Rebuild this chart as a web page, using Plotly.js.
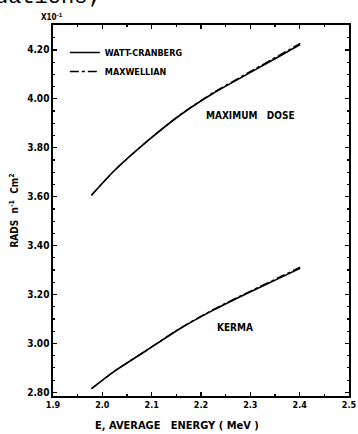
<!DOCTYPE html>
<html><head><meta charset="utf-8">
<script src="https://cdn.plot.ly/plotly-3.0.1.min.js"></script>
<style>html,body{margin:0;padding:0;background:#fff;}#c{width:358px;height:434px;}</style>
</head><body><div id="c"></div>
<script>
// Energy (MeV) and dose values (x10^-1 rads n^-1 cm^2)
const energy = [1.978, 2.022, 2.090, 2.158, 2.225, 2.293, 2.360, 2.401];
const maxDoseWatt = [3.606, 3.702, 3.825, 3.934, 4.023, 4.100, 4.175, 4.222];
const maxDoseMaxw = [3.606, 3.702, 3.826, 3.936, 4.026, 4.104, 4.180, 4.227];
const kermaWatt = [2.815, 2.883, 2.972, 3.061, 3.136, 3.204, 3.268, 3.307];
const kermaMaxw = [2.815, 2.883, 2.973, 3.063, 3.139, 3.207, 3.272, 3.312];
const xTicks = [1.9, 2.0, 2.1, 2.2, 2.3, 2.4, 2.5];
const xTickText = ["1.9", "2.0", "2.1", "2.2", "2.3", "2.4", "2.5"];
const yTicks = [2.8, 3.0, 3.2, 3.4, 3.6, 3.8, 4.0, 4.2];
const yTickText = ["2.80", "3.00", "3.20", "3.40", "3.60", "3.80", "4.00", "4.20"];
const seriesNames = ["WATT-CRANBERG", "MAXWELLIAN"];

const F = "DejaVu Sans Condensed, DejaVu Sans, sans-serif";
const traces = [
  {x: energy, y: maxDoseWatt, mode: "lines", name: seriesNames[0], line: {color: "#000", width: 1.6, shape: "spline", smoothing: 0.5}, legendgroup: "w"},
  {x: energy, y: maxDoseMaxw, mode: "lines", name: seriesNames[1], line: {color: "#000", width: 1.3, dash: "dashdot", shape: "spline", smoothing: 0.5}, legendgroup: "m"},
  {x: energy, y: kermaWatt, mode: "lines", name: seriesNames[0], showlegend: false, line: {color: "#000", width: 1.6, shape: "spline", smoothing: 0.5}, legendgroup: "w"},
  {x: energy, y: kermaMaxw, mode: "lines", name: seriesNames[1], showlegend: false, line: {color: "#000", width: 1.3, dash: "dashdot", shape: "spline", smoothing: 0.5}, legendgroup: "m"}
];
const axisCommon = {showgrid: false, zeroline: false, showline: true, linecolor: "#000", linewidth: 1.6, mirror: "ticks", ticks: "inside", ticklen: 4, tickwidth: 1.2, tickcolor: "#000", tickfont: {family: F, size: 9, color: "#000", weight: "bold"}};
const layout = {
  width: 358, height: 434,
  margin: {l: 53, r: 9, t: 25, b: 38},
  paper_bgcolor: "#fff", plot_bgcolor: "#fff",
  font: {family: F, color: "#000"},
  xaxis: Object.assign({}, axisCommon, {range: [1.9, 2.5], tickvals: xTicks, ticktext: xTickText, minor: {ticks: "inside", ticklen: 2, tickcolor: "#000", dtick: 0.05}}),
  yaxis: Object.assign({}, axisCommon, {range: [2.785, 4.302], tickvals: yTicks, ticktext: yTickText, tickfont: {family: F, size: 10, color: "#000", weight: "bold"}, minor: {ticks: "inside", ticklen: 2, tickcolor: "#000", dtick: 0.05},
    title: {text: "RADS  n<sup>-1</sup>  Cm<sup>2</sup>", font: {family: F, size: 10, weight: "bold"}, standoff: 6}}),
  showlegend: true,
  legend: {x: 0.04, y: 0.965, xanchor: "left", yanchor: "top", bgcolor: "rgba(0,0,0,0)", font: {family: F, size: 9, weight: "bold"}, itemwidth: 30, tracegroupgap: 0},
  annotations: [
    {text: "MAXIMUM   DOSE", x: 2.30, y: 3.93, xref: "x", yref: "y", showarrow: false, font: {family: F, size: 10, weight: "bold"}},
    {text: "KERMA", x: 2.269, y: 3.066, xref: "x", yref: "y", showarrow: false, font: {family: F, size: 10, weight: "bold"}},
    {text: "X10<sup>-1</sup>", x: 0, y: 1.0, xref: "paper", yref: "paper", xanchor: "left", yanchor: "bottom", xshift: -14, yshift: 1, showarrow: false, font: {family: F, size: 8, weight: "bold"}},
    {text: "E, AVERAGE   ENERGY ( MeV )", x: 0.42, y: 0, xref: "paper", yref: "paper", yanchor: "top", yshift: -21, showarrow: false, font: {family: F, size: 11, weight: "bold"}},
    {text: "uations;", x: 0, y: 1, xref: "paper", yref: "paper", xanchor: "left", yanchor: "bottom", xshift: -60, yshift: 13, showarrow: false, font: {family: "Liberation Mono, monospace", size: 22, color: "#000"}}
  ]
};
Plotly.newPlot("c", traces, layout, {staticPlot: true, displayModeBar: false});
</script></body></html>
